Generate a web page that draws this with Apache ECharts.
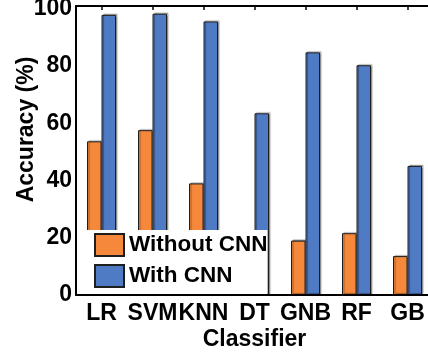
<!DOCTYPE html>
<html>
<head>
<meta charset="utf-8">
<script src="https://cdn.jsdelivr.net/npm/echarts@6/dist/echarts.min.js"></script>
<style>
  html, body { margin: 0; padding: 0; background: #fff; }
  #chart { width: 428px; height: 352px; }
</style>
</head>
<body>
<div id="chart"></div>
<script>
// Classification accuracy with and without CNN features
var classifiers = ['LR', 'SVM', 'KNN', 'DT', 'GNB', 'RF', 'GB'];
var withoutCnn = [53.7, 57.6, 39.0, 16.0, 19.0, 21.6, 13.6];
var withCnn = [97.9, 98.3, 95.6, 63.5, 84.8, 80.3, 45.1];
var yTicks = [0, 20, 40, 60, 80, 100];

var FONT = '"Liberation Sans", Arial, sans-serif';
var TEXT = { fontFamily: FONT, fontSize: 23, fontWeight: 'bold', color: '#000' };

var chart = echarts.init(document.getElementById('chart'), null, { renderer: 'canvas' });

function barStyle(color) {
  return {
    color: color,
    borderColor: '#1e1e1e',
    borderWidth: 1,
    shadowColor: 'rgba(0,0,0,0.35)',
    shadowBlur: 1,
    shadowOffsetX: 1.5,
    shadowOffsetY: -1
  };
}

chart.setOption({
  animation: false,
  grid: { left: 76, right: -5, top: 6, bottom: 57, containLabel: false, outerBoundsMode: 'none' },
  legend: {
    orient: 'vertical',
    left: 87,
    top: 230,
    padding: [3, 0, 6, 7],
    itemGap: 7,
    itemWidth: 29,
    itemHeight: 22,
    icon: 'rect',
    backgroundColor: '#ffffff',
    textStyle: Object.assign({}, TEXT, { fontSize: 22.5 }),
    data: ['Without CNN', 'With CNN']
  },
  xAxis: [
    {
      type: 'category',
      data: classifiers,
      position: 'bottom',
      name: 'Classifier',
      nameLocation: 'middle',
      nameGap: 33,
      nameMoveOverlap: false,
      nameTextStyle: TEXT,
      axisLine: { lineStyle: { color: '#000', width: 2 } },
      axisTick: { show: false },
      axisLabel: Object.assign({}, TEXT, { margin: 7, interval: 0 }),
      splitLine: { show: false },
      z: 5
    },
    {
      type: 'category',
      data: classifiers,
      position: 'top',
      axisLine: { lineStyle: { color: '#000', width: 2 } },
      axisTick: { show: true, inside: true, length: 4, alignWithLabel: true, lineStyle: { color: '#000', width: 1.5 } },
      axisLabel: { show: false },
      splitLine: { show: false }
    }
  ],
  yAxis: {
    type: 'value',
    min: 0,
    max: 101,
    interval: 20,
    name: 'Accuracy (%)',
    nameLocation: 'middle',
    nameGap: 38,
    nameMoveOverlap: false,
    nameTextStyle: Object.assign({}, TEXT, { padding: [0, 0, 0, 42] }),
    axisLine: { show: true, lineStyle: { color: '#000', width: 2 } },
    axisTick: { show: false },
    splitLine: { show: false },
    axisLabel: Object.assign({}, TEXT, {
      margin: 4,
      formatter: function (v) { return yTicks.indexOf(v) >= 0 ? String(v) : ''; }
    })
  },
  series: [
    {
      name: 'Without CNN',
      type: 'bar',
      data: withoutCnn,
      barWidth: 14.5,
      barGap: '0%',
      itemStyle: barStyle('#f5883a')
    },
    {
      name: 'With CNN',
      type: 'bar',
      data: withCnn,
      barWidth: 14.5,
      barGap: '0%',
      itemStyle: barStyle('#4f7bc5')
    }
  ]
});
</script>
</body>
</html>
